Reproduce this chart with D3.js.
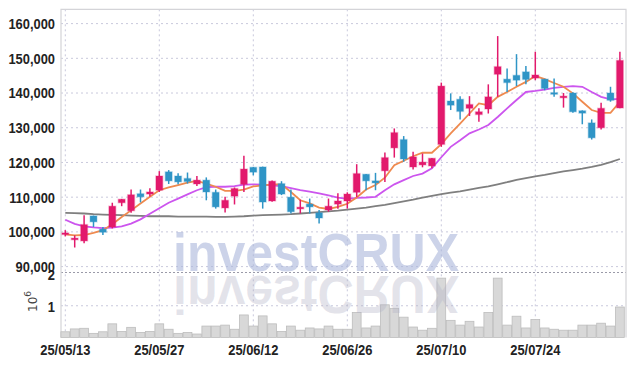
<!DOCTYPE html>
<html><head><meta charset="utf-8">
<script src="https://cdn.jsdelivr.net/npm/d3@7/dist/d3.min.js"></script>
<style>html,body{margin:0;padding:0;background:#fff;}svg{display:block;}</style>
</head><body><div id="chart"></div>
<script>
const dates = ["25/05/13","25/05/14","25/05/15","25/05/16","25/05/19","25/05/20","25/05/21","25/05/22","25/05/23","25/05/26",
"25/05/27","25/05/28","25/05/29","25/05/30","25/06/02","25/06/04","25/06/05","25/06/09","25/06/10","25/06/11",
"25/06/12","25/06/13","25/06/16","25/06/17","25/06/18","25/06/19","25/06/20","25/06/23","25/06/24","25/06/25",
"25/06/26","25/06/27","25/06/30","25/07/01","25/07/02","25/07/03","25/07/04","25/07/07","25/07/08","25/07/09",
"25/07/10","25/07/11","25/07/14","25/07/15","25/07/16","25/07/17","25/07/18","25/07/21","25/07/22","25/07/23",
"25/07/24","25/07/25","25/07/28","25/07/29","25/07/30","25/07/31","25/08/01","25/08/04","25/08/05","25/08/06"];
const openP = [99400,97900,97400,104600,100800,101400,108400,106100,111000,110900,112000,117300,116100,115400,113800,114900,111400,106900,110300,113700,118600,118700,108900,113900,110000,106900,108000,105500,106300,108000,108900,111400,116600,114700,117600,124200,126600,118700,119300,119000,125200,137700,138200,135600,133800,135400,145400,144000,145100,146100,144300,144000,140100,138900,140000,134900,131400,130000,140000,135700];
const closeP = [99700,98200,102100,102900,99900,107400,109400,110700,110100,111500,116100,114700,114400,114500,114900,111500,107200,109100,112500,118100,117200,108600,114600,110900,105800,107100,107200,104000,107400,108900,110900,116800,114700,114100,121400,128600,121000,121600,120100,121200,142000,136500,134700,136700,134600,138900,147600,143000,143700,143900,145200,141300,139800,139100,134600,134200,127100,135600,137900,149400];
const highP = [100500,99000,104800,104700,101400,108400,109500,112200,112200,112600,117500,117800,116900,117100,116100,115700,112200,110100,112800,121900,118700,118800,114800,114600,112200,109300,109600,106300,109600,111100,111400,119500,116700,117000,122900,129800,127600,123100,122600,121300,143000,139900,139100,139100,135600,142500,156400,147100,151200,147800,151900,144100,144200,140000,140200,135000,132400,137200,141800,151900];
const lowP = [98700,95500,96700,101400,99100,101000,107400,105500,108500,110200,111500,113800,113700,113900,113200,109100,106700,105600,107900,111500,116300,106700,108700,110600,105300,105300,105300,102400,105800,106700,106700,110000,112000,112000,114400,121400,120200,118000,118600,118300,124500,135100,132400,133400,131700,134100,138900,140300,142000,142500,143700,140800,138900,135800,134300,131000,126600,129500,137500,135600];
const ma5 = [99300,99000,99100,99700,100500,102200,104300,106200,108200,110100,112000,112800,113500,114200,114700,113900,113000,111800,111800,112200,113100,113400,113700,113700,111500,109100,108200,107000,106600,107200,108100,109900,112200,113500,115600,119200,120500,121800,122800,122800,125300,128400,131200,134100,137000,136500,138900,140300,141800,143200,144900,144000,142900,141800,139900,137500,135100,134300,134300,137500];
const ma20 = [103500,102300,101600,101300,101100,101200,101600,102400,103600,105200,106800,108400,109600,110800,112000,112900,113000,113000,113200,113600,113700,113600,113400,113200,112600,112000,111600,111100,110500,109900,109500,109800,109900,110100,112000,113700,114900,116100,116800,118300,121500,124500,126400,128400,129500,130800,133100,135600,138000,140300,140600,141000,141500,141800,142000,141800,140300,138900,138200,138300];
const ma60 = [105500,105400,105300,105100,105000,104900,104800,104700,104600,104500,104500,104500,104400,104400,104400,104400,104300,104300,104400,104500,104700,104800,104900,105000,105100,105300,105500,105700,105900,106100,106400,106700,107000,107400,107800,108300,108800,109300,109900,110400,110900,111300,111700,112200,112700,113100,113700,114300,115000,115500,116000,116400,116900,117400,117800,118200,118700,119300,120100,121000];
const volume = [0.18,0.27,0.29,0.13,0.18,0.43,0.19,0.32,0.16,0.19,0.43,0.26,0.13,0.16,0.11,0.36,0.36,0.39,0.26,0.71,0.36,0.68,0.43,0.19,0.36,0.23,0.30,0.27,0.36,0.26,0.26,0.79,0.30,0.36,1.03,0.92,0.64,0.33,0.23,0.29,1.87,0.54,0.39,0.51,0.33,0.79,1.87,0.39,0.67,0.30,0.57,0.30,0.26,0.23,0.23,0.39,0.39,0.45,0.36,0.96].map(v=>v*1e6);
const priceTicks = [90000,100000,110000,120000,130000,140000,150000,160000];
const volTicks = [1e6,2e6];
const dateTickIdx = [0,10,20,30,40,50];

const W=634,H=366;
const L=61,R=626,T=9.3,B=337.5,SEP=272.5;
const svg = d3.select("#chart").append("svg").attr("width",W).attr("height",H);
const x = d3.scaleLinear().domain([0,59]).range([65.3,619.9]);
const y = d3.scaleLinear().domain([90000,160000]).range([266.6,23.6]);
const yv = d3.scaleLinear().domain([0,2e6]).range([B,274]);
const font = "'Liberation Sans',Arial,sans-serif";
const gridC = "#c9c9dc";
const SX = 0.86;

// grid
const g = svg.append("g");
g.selectAll(".hg").data(priceTicks).join("line")
 .attr("x1",L).attr("x2",R).attr("y1",d=>y(d)).attr("y2",d=>y(d))
 .attr("stroke",gridC).attr("stroke-width",1).attr("stroke-dasharray","2,3");
g.selectAll(".vg").data(dateTickIdx).join("line")
 .attr("x1",d=>x(d)).attr("x2",d=>x(d)).attr("y1",T).attr("y2",B)
 .attr("stroke",gridC).attr("stroke-width",1).attr("stroke-dasharray","2,3");
g.append("line").attr("x1",L).attr("x2",R).attr("y1",yv(1e6)).attr("y2",yv(1e6))
 .attr("stroke",gridC).attr("stroke-dasharray","2,3");
g.append("line").attr("x1",L).attr("x2",R).attr("y1",SEP).attr("y2",SEP)
 .attr("stroke","#9a9aa8").attr("stroke-dasharray","2,2");
// frame
svg.append("path").attr("d",`M${L},${B}V${T}H${R}V${B}`).attr("fill","none").attr("stroke","#d4d4d8").attr("stroke-width",1.2);

// volume bars
const bw = x(1)-x(0);
svg.append("g").selectAll("rect").data(volume).join("rect")
 .attr("x",(d,i)=>x(i)-bw/2+0.3).attr("width",bw-0.6)
 .attr("y",d=>yv(d)).attr("height",d=>B-yv(d))
 .attr("fill","#d8d8d8").attr("stroke","#bdbdbd").attr("stroke-width",0.8);

// watermark
const wm = svg.append("g");
wm.append("text").text("investCRUX").attr("x",173).attr("y",271)
 .attr("font-family",font).attr("font-weight","bold").attr("font-size",54)
 .attr("textLength",286).attr("lengthAdjust","spacingAndGlyphs")
 .attr("fill","#aab5da").attr("fill-opacity",0.6);
wm.append("text").text("investCRUX").attr("x",173).attr("y",271)
 .attr("transform","translate(0,547) scale(1,-1)")
 .attr("font-family",font).attr("font-weight","bold").attr("font-size",54)
 .attr("textLength",286).attr("lengthAdjust","spacingAndGlyphs")
 .attr("fill","#b0b0c4").attr("fill-opacity",0.35);

// MA lines
const line = arr => d3.line().x((d,i)=>x(i)).y(d=>y(d))(arr);
svg.append("path").attr("d",line(ma60)).attr("fill","none").attr("stroke","#7f7f7f").attr("stroke-width",1.8);
svg.append("path").attr("d",line(ma20)).attr("fill","none").attr("stroke","#cc55ee").attr("stroke-width",1.8);
svg.append("path").attr("d",line(ma5)).attr("fill","none").attr("stroke","#ef8a4f").attr("stroke-width",1.8);

// candles
const up="#e2196c", down="#2f95c6";
const cg = svg.append("g");
const idx = d3.range(dates.length);
cg.selectAll(".wick").data(idx).join("line")
 .attr("x1",i=>x(i)).attr("x2",i=>x(i)).attr("y1",i=>y(highP[i])).attr("y2",i=>y(lowP[i]))
 .attr("stroke",i=>closeP[i]>=openP[i]?up:down).attr("stroke-width",1.5);
cg.selectAll(".body").data(idx).join("rect")
 .attr("x",i=>x(i)-3.4).attr("width",6.8)
 .attr("y",i=>y(Math.max(openP[i],closeP[i])))
 .attr("height",i=>Math.max(1.6,Math.abs(y(openP[i])-y(closeP[i]))))
 .attr("fill",i=>closeP[i]>=openP[i]?up:down)
 .attr("stroke",i=>closeP[i]>=openP[i]?up:down).attr("stroke-opacity",0.25).attr("stroke-width",1.5);

// axes labels (condensed bold)
const ax = svg.append("g").attr("font-family",font).attr("font-weight","bold").attr("font-size",15).attr("fill","#222");
ax.selectAll(".pt").data(priceTicks).join("text")
 .attr("transform",d=>`translate(55,${y(d)}) scale(${SX},1)`).attr("dy","0.36em")
 .attr("text-anchor","end").text(d=>d3.format(",")(d));
ax.selectAll(".vt").data(volTicks).join("text")
 .attr("transform",d=>`translate(55,${yv(d)+1}) scale(${SX},1)`).attr("dy","0.36em")
 .attr("text-anchor","end").text(d=>d/1e6);
ax.selectAll(".dt").data(dateTickIdx).join("text")
 .attr("transform",i=>`translate(${x(i)},350) scale(${SX},1)`).attr("dy","0.36em")
 .attr("text-anchor","middle").text(i=>dates[i]);
const unit = svg.append("text").attr("transform","translate(37,312) rotate(-90)")
 .attr("font-family","'DejaVu Sans',sans-serif").attr("font-size",12).attr("fill","#444");
unit.append("tspan").text("10");
unit.append("tspan").text("6").attr("font-size",9).attr("dy",-6);
</script></body></html>
